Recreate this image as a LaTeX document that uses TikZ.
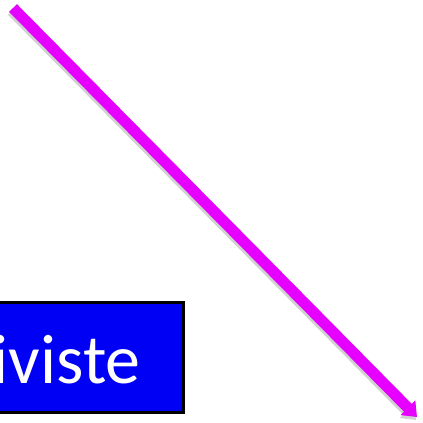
\documentclass[tikz,border=0pt]{standalone}
\usepackage{fontspec}
\setmainfont{Carlito}
\usetikzlibrary{arrows.meta}
\definecolor{mag}{RGB}{230,0,255}
\definecolor{boxblue}{RGB}{0,0,245}
\tikzset{
  arrowline/.style={draw=mag, line width=11pt, -{Triangle[width=20pt,length=13pt]}},
  shadowline/.style={draw=black!18, line width=11pt, -{Triangle[width=20pt,length=13pt]}},
  boxstyle/.style={fill=boxblue, draw=black, line width=3pt},
  labeltext/.style={text=white, font=\fontsize{70}{70}\selectfont, inner sep=0pt, anchor=base east}
}
\begin{document}
\begin{tikzpicture}[x=1pt,y=-1pt]
\useasboundingbox (0,0) rectangle (423,423);
\begin{scope}
\clip (0,0) rectangle (423,423);
\draw[boxstyle] (-20,302) rectangle (183,412);
\node[labeltext] (lbl) at (141,383) {iviste};
\coordinate (s) at (13,8);
\coordinate (e) at (417,417);
\coordinate (s2) at (12,11);
\coordinate (e2) at (416,420);
\draw[shadowline] (s2) -- (e2);
\draw[arrowline] (s) -- (e);
\end{scope}
\end{tikzpicture}
\end{document}
